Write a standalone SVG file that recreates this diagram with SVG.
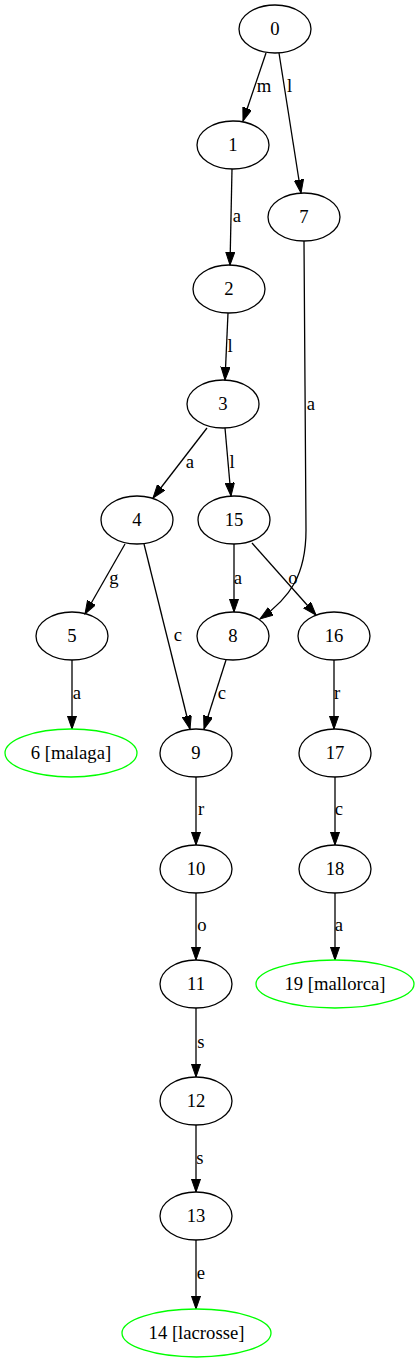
<svg xmlns="http://www.w3.org/2000/svg" width="419" height="1363" viewBox="0 0 419 1363">
<style>
.n ellipse{fill:none;stroke:#000;stroke-width:1.3}
.f ellipse{fill:none;stroke:#00ff00;stroke-width:1.3}
text{font-family:"Liberation Serif","Times New Roman",serif;font-size:18.67px;fill:#000;text-anchor:middle}
#edges path{fill:none;stroke:#000;stroke-width:1.3;marker-end:url(#ah)}
</style>
<defs>
<marker id="ah" markerUnits="userSpaceOnUse" markerWidth="14" markerHeight="10" refX="13.3" refY="4.65" orient="auto">
<path d="M0,0 L13.3,4.65 L0,9.3 z" fill="#000" stroke="#000" stroke-width="1"/>
</marker>
</defs>
<rect width="419" height="1363" fill="#fff"/>
<g id="edges">
<path d="M266,53 L243,121"/><text x="264" y="92">m</text>
<path d="M279,53 L301,193"/><text x="289.5" y="92">l</text>
<path d="M232,169 L230,265"/><text x="237" y="222">a</text>
<path d="M228,313 L225,380"/><text x="230" y="352">l</text>
<path d="M207,428 L153,498"/><text x="190" y="468">a</text>
<path d="M225,428 L231,496"/><text x="232" y="468">l</text>
<path d="M304,241 C304,300 306,470 306,530 C306,575 290,598 260,619"/><text x="311" y="410">a</text>
<path d="M125,544 L85,614"/><text x="114" y="584">g</text>
<path d="M144,544 L190,729"/><text x="178" y="641">c</text>
<path d="M234,544 L234,612"/><text x="238" y="584">a</text>
<path d="M252,543 L316,615"/><text x="293" y="584">o</text>
<path d="M72,660 L72,729"/><text x="77" y="699">a</text>
<path d="M226,660 L204,729"/><text x="222" y="699">c</text>
<path d="M334,660 L334,729"/><text x="337" y="699">r</text>
<path d="M196,777 L196,845"/><text x="201" y="815">r</text>
<path d="M335,777 L335,845"/><text x="339" y="815">c</text>
<path d="M196,893 L196,960"/><text x="202" y="931">o</text>
<path d="M335,893 L335,960"/><text x="339" y="931">a</text>
<path d="M196,1008 L196,1077"/><text x="201" y="1048">s</text>
<path d="M196,1125 L196,1192"/><text x="200" y="1164">s</text>
<path d="M196,1240 L196,1309"/><text x="201" y="1279">e</text>
</g>
<g id="node0" class="n"><ellipse cx="275" cy="29" rx="36" ry="24"/><text x="275" y="35">0</text></g>
<g id="node1" class="n"><ellipse cx="233" cy="145" rx="36" ry="24"/><text x="233" y="151">1</text></g>
<g id="node7" class="n"><ellipse cx="304" cy="217" rx="36" ry="24"/><text x="304" y="223">7</text></g>
<g id="node2" class="n"><ellipse cx="229" cy="289" rx="36" ry="24"/><text x="229" y="295">2</text></g>
<g id="node3" class="n"><ellipse cx="223" cy="404" rx="36" ry="24"/><text x="223" y="410">3</text></g>
<g id="node4" class="n"><ellipse cx="137" cy="520" rx="36" ry="24"/><text x="137" y="526">4</text></g>
<g id="node15" class="n"><ellipse cx="234" cy="520" rx="36" ry="24"/><text x="234" y="526">15</text></g>
<g id="node5" class="n"><ellipse cx="72" cy="636" rx="36" ry="24"/><text x="72" y="642">5</text></g>
<g id="node8" class="n"><ellipse cx="233" cy="636" rx="36" ry="24"/><text x="233" y="642">8</text></g>
<g id="node16" class="n"><ellipse cx="334" cy="636" rx="36" ry="24"/><text x="334" y="642">16</text></g>
<g id="node6" class="f"><ellipse cx="71" cy="753" rx="66" ry="24"/><text x="71" y="759">6 [malaga]</text></g>
<g id="node9" class="n"><ellipse cx="196" cy="753" rx="36" ry="24"/><text x="196" y="759">9</text></g>
<g id="node17" class="n"><ellipse cx="335" cy="753" rx="36" ry="24"/><text x="335" y="759">17</text></g>
<g id="node10" class="n"><ellipse cx="196" cy="869" rx="36" ry="24"/><text x="196" y="875">10</text></g>
<g id="node18" class="n"><ellipse cx="335" cy="869" rx="36" ry="24"/><text x="335" y="875">18</text></g>
<g id="node11" class="n"><ellipse cx="196" cy="984" rx="36" ry="24"/><text x="196" y="990">11</text></g>
<g id="node19" class="f"><ellipse cx="335" cy="984" rx="79" ry="24"/><text x="335" y="990">19 [mallorca]</text></g>
<g id="node12" class="n"><ellipse cx="196" cy="1101" rx="36" ry="24"/><text x="196" y="1107">12</text></g>
<g id="node13" class="n"><ellipse cx="196" cy="1216" rx="36" ry="24"/><text x="196" y="1222">13</text></g>
<g id="node14" class="f"><ellipse cx="196.5" cy="1333" rx="74.5" ry="24"/><text x="196.5" y="1339">14 [lacrosse]</text></g>
</svg>
